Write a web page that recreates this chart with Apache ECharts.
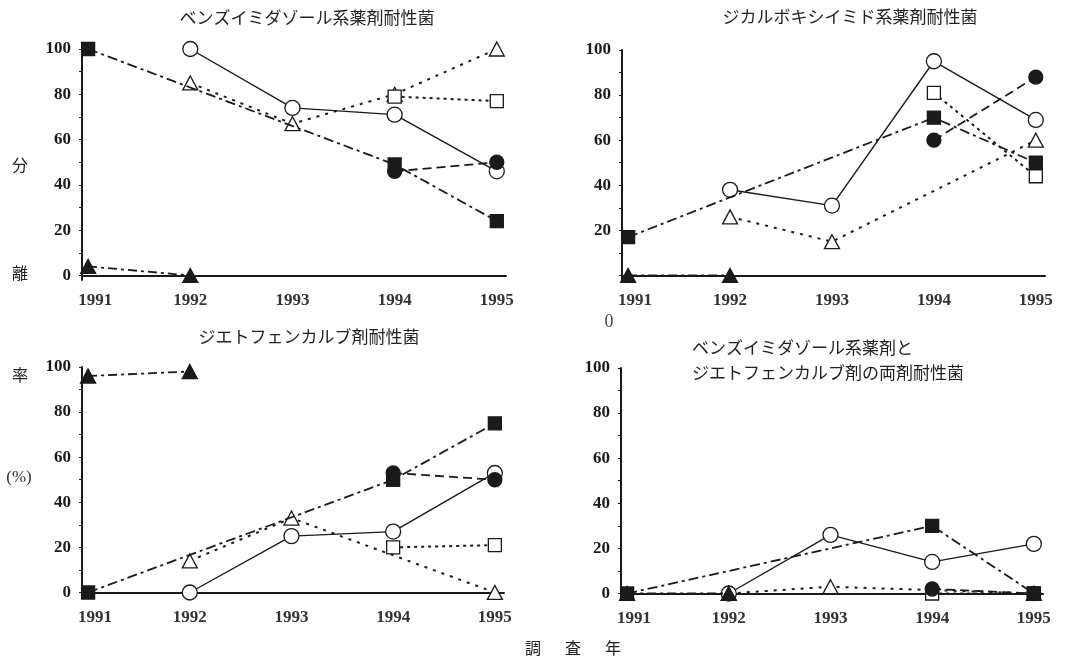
<!DOCTYPE html>
<html>
<head>
<meta charset="utf-8">
<script src="https://cdn.jsdelivr.net/npm/echarts@6/dist/echarts.min.js"></script>
<style>
  html, body { margin: 0; padding: 0; background: #fff; }
  #main { width: 1075px; height: 657px; }
</style>
</head>
<body>
<div id="main"></div>
<script>
// 調査年
var years = [1991, 1992, 1993, 1994, 1995];
var yTicks = [0, 20, 40, 60, 80, 100];
var yMinor = [0, 10, 20, 30, 40, 50, 60, 70, 80, 90, 100];

var titles = [
  'ベンズイミダゾール系薬剤耐性菌',
  'ジカルボキシイミド系薬剤耐性菌',
  'ジエトフェンカルブ剤耐性菌',
  'ベンズイミダゾール系薬剤と\nジエトフェンカルブ剤の両剤耐性菌'
];

// ベンズイミダゾール系薬剤耐性菌
var a_openTri    = [null, 85, 67, 80, 100];
var a_openSquare = [null, null, null, 79, 77];
var a_openCircle = [null, 100, 74, 71, 46];
var a_fillTri    = [4, 0, null, null, null];
var a_fillSquare = [100, null, null, 49, 24];
var a_fillCircle = [null, null, null, 46, 50];

// ジカルボキシイミド系薬剤耐性菌
var b_openTri    = [null, 26, 15, null, 60];
var b_openSquare = [null, null, null, 81, 44];
var b_openCircle = [null, 38, 31, 95, 69];
var b_fillTri    = [0, 0, null, null, null];
var b_fillSquare = [17, null, null, 70, 50];
var b_fillCircle = [null, null, null, 60, 88];

// ジエトフェンカルブ剤耐性菌
var c_openTri    = [null, 14, 33, null, 0];
var c_openSquare = [null, null, null, 20, 21];
var c_openCircle = [null, 0, 25, 27, 53];
var c_fillTri    = [96, 98, null, null, null];
var c_fillSquare = [0, null, null, 50, 75];
var c_fillCircle = [null, null, null, 53, 50];

// 両剤耐性菌
var d_openTri    = [null, 0, 3, null, 0];
var d_openSquare = [null, null, null, 0, 0];
var d_openCircle = [null, 0, 26, 14, 22];
var d_fillTri    = [0, 0, null, null, null];
var d_fillSquare = [0, null, null, 30, 0];
var d_fillCircle = [null, null, null, 2, 0];

var panels = [
  [a_openTri, a_openSquare, a_openCircle, a_fillTri, a_fillSquare, a_fillCircle],
  [b_openTri, b_openSquare, b_openCircle, b_fillTri, b_fillSquare, b_fillCircle],
  [c_openTri, c_openSquare, c_openCircle, c_fillTri, c_fillSquare, c_fillCircle],
  [d_openTri, d_openSquare, d_openCircle, d_fillTri, d_fillSquare, d_fillCircle]
];

var INK = '#1a1a1a';
var NUM_FONT = 'Liberation Serif';
var JP_FONT = 'Noto Sans CJK JP';

// 記号と線種（順番は panels の中と同じ）
var looks = [
  {symbol: 'triangle', size: [15, 14], fill: '#fff', dash: [3, 6], width: 2},
  {symbol: 'rect', size: 13, fill: '#fff', dash: [3, 4], width: 2},
  {symbol: 'circle', size: 15, fill: '#fff', dash: 'solid', width: 1.4},
  {symbol: 'triangle', size: [15, 14], fill: INK, dash: [9, 4, 3, 4], width: 1.8},
  {symbol: 'rect', size: 13, fill: INK, dash: [10, 4, 3, 4], width: 1.8},
  {symbol: 'circle', size: 14, fill: INK, dash: [9, 5], width: 1.8}
];

var grids = [
  {left: 82, top: 49, width: 424, height: 231},
  {left: 622, top: 50, width: 423, height: 230},
  {left: 82, top: 367, width: 422, height: 230},
  {left: 621, top: 368, width: 422, height: 230}
];

var xAxes = [], yAxes = [], series = [];
grids.forEach(function(g, k) {
  xAxes.push({
    type: 'value',
    gridIndex: k,
    min: 1990.94,
    max: 1995.09,
    axisLine: {lineStyle: {color: INK, width: 2}},
    axisTick: {show: false},
    splitLine: {show: false},
    axisLabel: {
      customValues: years,
      margin: 12,
      formatter: function(v) {
        return v === 1991 ? '{f|' + v + '}' : '{n|' + v + '}';
      },
      rich: {
        f: {fontFamily: NUM_FONT, fontWeight: 'bold', fontSize: 17, color: '#333', padding: [0, 0, 0, 14]},
        n: {fontFamily: NUM_FONT, fontWeight: 'bold', fontSize: 17, color: '#333'}
      }
    }
  });
  yAxes.push({
    type: 'value',
    gridIndex: k,
    min: -2,
    max: 100,
    axisLine: {show: true, lineStyle: {color: INK, width: 2}},
    axisTick: {show: true, customValues: yMinor, length: 3, lineStyle: {color: INK}},
    splitLine: {show: false},
    axisLabel: {
      customValues: k === 1 ? yTicks.slice(1) : yTicks,
      margin: 11,
      fontFamily: NUM_FONT,
      fontWeight: 'bold',
      fontSize: 17,
      color: INK
    }
  });
  panels[k].forEach(function(vals, j) {
    var lk = looks[j];
    series.push({
      type: 'line',
      xAxisIndex: k,
      yAxisIndex: k,
      data: years.map(function(y, i) { return [y, vals[i]]; }),
      connectNulls: true,
      symbol: lk.symbol,
      symbolSize: lk.size,
      showSymbol: true,
      clip: false,
      lineStyle: {color: INK, width: lk.width, type: lk.dash},
      itemStyle: {color: lk.fill, borderColor: INK, borderWidth: 1.3},
      z: 2 + j,
      animation: false
    });
  });
});

function txt(x, y, s, size, font, extra) {
  var st = {
    x: x, y: y, text: s,
    font: (extra && extra.weight ? extra.weight + ' ' : '') + size + 'px "' + font + '"',
    fill: (extra && extra.fill) || '#222',
    textAlign: (extra && extra.align) || 'center',
    textVerticalAlign: 'middle',
    lineHeight: extra && extra.lineHeight
  };
  return {type: 'text', style: st, z: 10};
}

var graphics = [
  txt(307, 18, titles[0], 17, JP_FONT),
  txt(850, 17, titles[1], 17, JP_FONT),
  txt(309, 337, titles[2], 17, JP_FONT),
  txt(692, 360, titles[3], 17, JP_FONT, {align: 'left', lineHeight: 25}),
  txt(20, 165, '分', 16, JP_FONT),
  txt(20, 273, '離', 16, JP_FONT),
  txt(20, 375, '率', 16, JP_FONT),
  txt(19, 478, '(%)', 17, 'Liberation Serif', {fill: '#333'}),
  txt(609, 322, '0', 18, NUM_FONT, {fill: '#444'}),
  txt(573, 648, '調\u3000\u2002査\u3000\u2002年', 16, JP_FONT)
];

var chart = echarts.init(document.getElementById('main'));
chart.setOption({
  backgroundColor: '#fff',
  animation: false,
  grid: grids,
  xAxis: xAxes,
  yAxis: yAxes,
  series: series,
  graphic: graphics
});
</script>
</body>
</html>
